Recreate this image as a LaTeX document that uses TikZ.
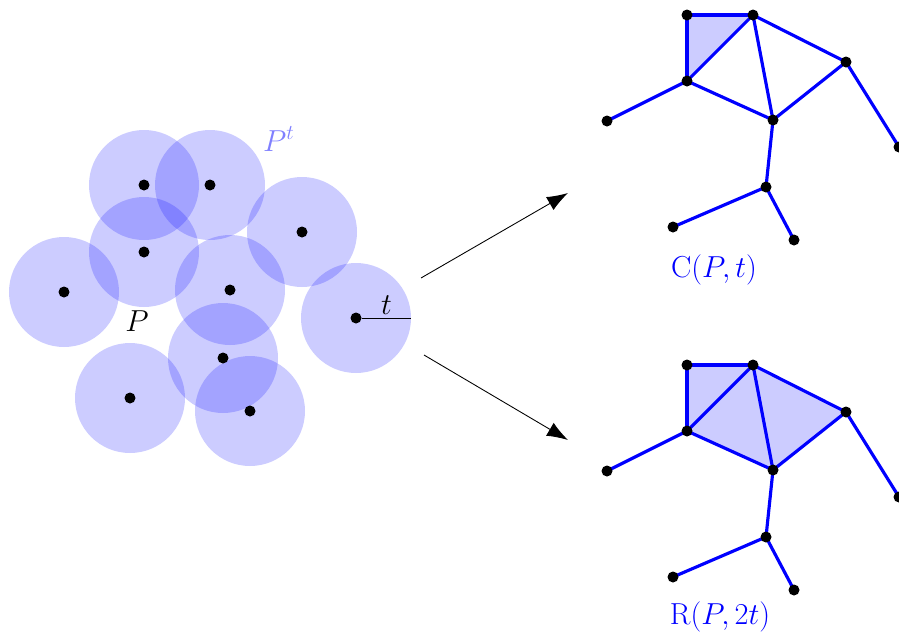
\documentclass[tikz,border=0pt]{standalone}
\usepackage{amsmath,amssymb}
\usepackage{xcolor}
\usepackage{tikz}
\usetikzlibrary{arrows.meta,positioning,calc}

\begin{document}
\begin{tikzpicture}[x=1cm,y=-1cm,
  pt/.style={circle,fill=black,inner sep=0pt,minimum size=2.2mm},
  ball/.style={fill=blue,fill opacity=0.2},
  edge/.style={blue,line width=1.8pt,line join=round},
  face/.style={fill=blue!20},
  lbl/.style={font=\fontsize{16.5}{20}\selectfont},
  arr/.style={-{Latex[length=4.2mm,width=3mm]},line width=0.5pt}]
 \useasboundingbox (0,0) rectangle (17.98,12.78);
 % point set and its balls
 \foreach \n/\x/\y in {1/2.88/3.70,2/4.20/3.70,3/6.04/4.64,4/2.88/5.04,5/1.28/5.84,
   6/4.60/5.80,7/7.12/6.36,8/4.46/7.16,9/2.60/7.96,10/5.00/8.22}
   \coordinate (p\n) at (\x,\y);
 \foreach \n in {1,...,10}
   \fill[ball] (p\n) circle (1.1cm);
 \foreach \n in {1,...,10}
   \node[pt] (d\n) at (p\n) {};
 \coordinate (tend) at (8.22,6.36);
 \draw[line width=0.5pt] (d7)--(tend) node[midway,above,lbl,inner sep=2pt]{$t$};
 \node[lbl] (lP) at (2.74,6.42) {$P$};
 \node[lbl,text=blue!50] (lPt) at (5.58,2.78) {$P^t$};
 % the two complexes
 \foreach \g/\dy in {C/0,R/7}{
  \foreach \n/\x/\y in {a/13.74/0.30,b/15.06/0.30,c/13.74/1.62,d/12.14/2.42,e/15.46/2.40,
    f/16.92/1.24,g/17.98/2.94,h/15.32/3.74,i/13.46/4.54,j/15.88/4.80}
    \coordinate (\g\n) at (\x,\y+\dy);
 }
 \fill[face] (Ca)--(Cb)--(Cc)--cycle;
 \fill[face] (Ra)--(Rb)--(Rf)--(Re)--(Rc)--cycle;
 \foreach \g in {C,R}{
  \foreach \u/\v in {a/b,a/c,b/c,c/d,c/e,b/e,b/f,f/e,f/g,e/h,h/i,h/j}
    \draw[edge] (\g\u)--(\g\v);
  \foreach \n in {a,b,c,d,e,f,g,h,i,j}
    \node[pt] at (\g\n) {};
 }
 \node[lbl,text=blue] (lC) at (14.28,5.40) {$\mathrm{C}(P,t)$};
 \node[lbl,text=blue] (lR) at (14.40,12.34) {$\mathrm{R}(P,2t)$};
 % arrows
 \coordinate (s1) at (8.42,5.56);
 \coordinate (e1) at (11.36,3.86);
 \coordinate (s2) at (8.48,7.10);
 \coordinate (e2) at (11.36,8.80);
 \draw[arr] (s1)--(e1);
 \draw[arr] (s2)--(e2);
\end{tikzpicture}
\end{document}
